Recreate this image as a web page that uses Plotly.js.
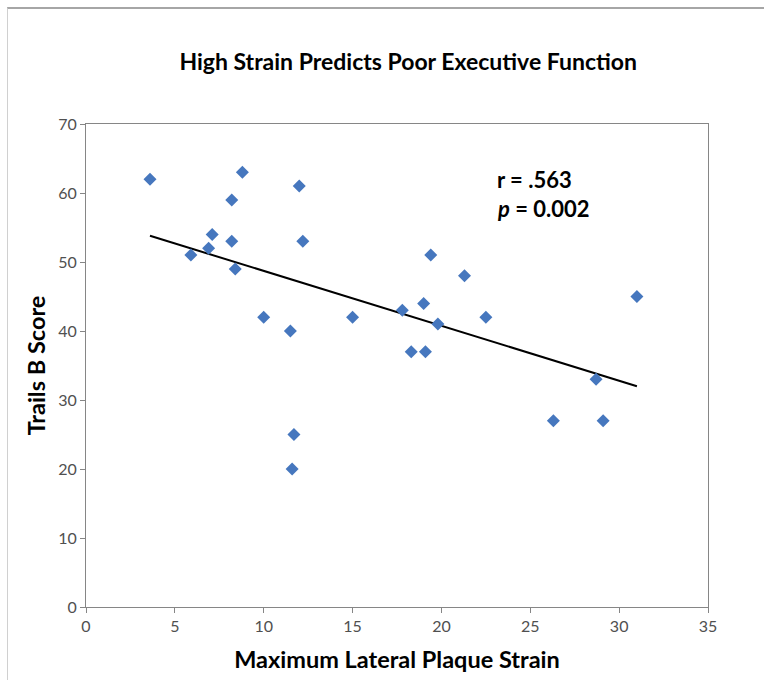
<!DOCTYPE html>
<html>
<head>
<meta charset="utf-8">
<script src="https://cdn.plot.ly/plotly-3.0.1.min.js"></script>
<style>
  html, body { margin: 0; padding: 0; background: #fff; }
  #wrap { position: relative; width: 764px; height: 680px; }
  #chart { width: 764px; height: 680px; }
  #frame { position: absolute; left: 7px; top: 7px; right: -2px; bottom: -2px;
           border-top: 2px solid #a6a6a6; border-left: 1px solid #d0d0d0; pointer-events: none; }
</style>
</head>
<body>
<div id="wrap">
  <div id="chart"></div>
  <div id="frame"></div>
</div>
<script>
// Maximum lateral plaque strain (x) and Trails B score (y)
const strain = [3.6, 5.9, 6.9, 7.1, 8.2, 8.2, 8.4, 8.8, 10.0, 11.5, 11.7, 11.6, 12.0, 12.2,
                15.0, 17.8, 18.3, 19.0, 19.1, 19.4, 19.8, 21.3, 22.5, 26.3, 28.7, 29.1, 31.0];
const trailsB = [62, 51, 52, 54, 53, 59, 49, 63, 42, 40, 25, 20, 61, 53,
                 42, 43, 37, 44, 37, 51, 41, 48, 42, 27, 33, 27, 45];
const titleText = 'High Strain Predicts Poor Executive Function';
const xTitle = 'Maximum Lateral Plaque Strain';
const yTitle = 'Trails B Score';
const statLines = ['r = .563', '<i>p</i> = 0.002'];

// least-squares linear trendline computed from the data
const n = strain.length;
const mx = strain.reduce((a, b) => a + b, 0) / n;
const my = trailsB.reduce((a, b) => a + b, 0) / n;
let sxy = 0, sxx = 0;
for (let i = 0; i < n; i++) { sxy += (strain[i] - mx) * (trailsB[i] - my); sxx += (strain[i] - mx) ** 2; }
const slope = sxy / sxx, icept = my - slope * mx;
const xMin = Math.min(...strain), xMax = Math.max(...strain);
const trendX = [xMin, xMax];
const trendY = trendX.map(v => icept + slope * v);

const font = 'Lato, "Open Sans", sans-serif';
const axisCol = '#868686';

const traces = [
  { x: trendX, y: trendY, type: 'scatter', mode: 'lines',
    line: { color: '#000000', width: 2 }, hoverinfo: 'skip', showlegend: false },
  { x: strain, y: trailsB, type: 'scatter', mode: 'markers',
    marker: { symbol: 'diamond', size: 10, color: '#4677BE' }, showlegend: false }
];

const layout = {
  width: 764, height: 680,
  margin: { l: 86, r: 56, t: 124, b: 73 },
  paper_bgcolor: '#ffffff', plot_bgcolor: '#ffffff',
  font: { family: font, color: '#595959', size: 16 },
  title: { text: '<b>' + titleText + '</b>', x: 0.518, xref: 'paper', xanchor: 'center',
           y: 60, yref: 'container', yanchor: 'middle',
           font: { family: font, size: 23, color: '#000000' } },
  xaxis: {
    range: [0, 35], dtick: 5, tick0: 0, showgrid: false, zeroline: false,
    showline: true, linecolor: axisCol, linewidth: 1, mirror: true,
    ticks: 'outside', ticklen: 5, tickcolor: axisCol,
    tickfont: { family: font, size: 16, color: '#505050' },
    title: { text: '<b>' + xTitle + '</b>', standoff: 17,
             font: { family: font, size: 23.5, color: '#000000' } }
  },
  yaxis: {
    range: [0, 70], dtick: 10, tick0: 0, showgrid: false, zeroline: false,
    showline: true, linecolor: axisCol, linewidth: 1, mirror: true,
    ticks: 'outside', ticklen: 5, tickcolor: axisCol,
    tickfont: { family: font, size: 16, color: '#505050' },
    title: { text: '<b>' + yTitle + '</b>', standoff: 6,
             font: { family: font, size: 23.5, color: '#000000' } }
  },
  annotations: [
    { x: 23.0, y: 61.9, xref: 'x', yref: 'y', text: '<b>' + statLines[0] + '</b>', showarrow: false,
      xanchor: 'left', yanchor: 'middle', font: { family: font, size: 22, color: '#000000' } },
    { x: 23.0, y: 57.8, xref: 'x', yref: 'y', text: '<b>' + statLines[1] + '</b>', showarrow: false,
      xanchor: 'left', yanchor: 'middle', font: { family: font, size: 22, color: '#000000' } }
  ]
};

Plotly.newPlot('chart', traces, layout, { displayModeBar: false, staticPlot: true });
</script>
</body>
</html>
